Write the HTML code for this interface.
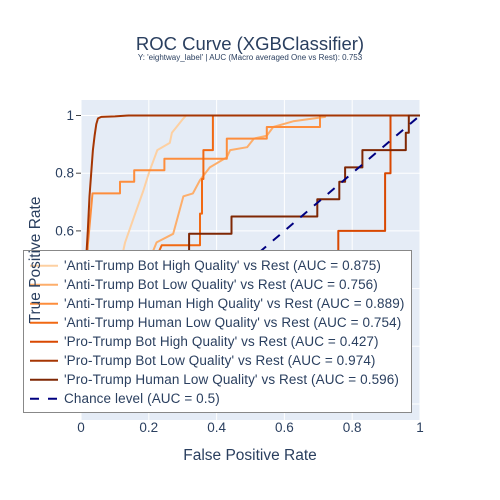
<!DOCTYPE html>
<html><head><meta charset="utf-8"><style>
body{margin:0;background:#fff;}
svg{display:block;font-family:"Liberation Sans",Arial,sans-serif;}
</style></head><body>
<svg id="chart" width="500" height="500" viewBox="0 0 500 500" xmlns="http://www.w3.org/2000/svg">
<rect width="500" height="500" fill="#fff"/>
<text x="250" y="50" text-anchor="middle" font-size="18.5" fill="#2a3f5f">ROC Curve (XGBClassifier)</text>
<text x="250" y="60" text-anchor="middle" font-size="8" fill="#2a3f5f">Y: 'eightway_label' | AUC (Macro averaged One vs Rest): 0.753</text>
<rect x="81" y="100" width="339" height="320" fill="#E5ECF6"/>
<g id="grid"></g>
<g id="ticks"></g>
<defs><clipPath id="clip"><rect x="81" y="100" width="339" height="320"/></clipPath></defs>
<g id="series" clip-path="url(#clip)"></g>
<text x="250" y="460" text-anchor="middle" font-size="15.5" fill="#2a3f5f">False Positive Rate</text>
<g id="legend"></g>
<text x="0" y="0" transform="translate(40,260) rotate(-90)" text-anchor="middle" font-size="15.5" fill="#2a3f5f">True Positive Rate</text>
</svg>
<script>
const xTicks=[0,0.2,0.4,0.6,0.8,1];
const xTickLabels=["0","0.2","0.4","0.6","0.8","1"];
const yTicks=[0,0.2,0.4,0.6,0.8,1];
const yTickLabels=["0","0.2","0.4","0.6","0.8","1"];
const seriesNames=["'Anti-Trump Bot High Quality' vs Rest (AUC = 0.875)","'Anti-Trump Bot Low Quality' vs Rest (AUC = 0.756)","'Anti-Trump Human High Quality' vs Rest (AUC = 0.889)","'Anti-Trump Human Low Quality' vs Rest (AUC = 0.754)","'Pro-Trump Bot High Quality' vs Rest (AUC = 0.427)","'Pro-Trump Bot Low Quality' vs Rest (AUC = 0.974)","'Pro-Trump Human Low Quality' vs Rest (AUC = 0.596)"];
const colors=["rgb(253,208,162)","rgb(253,174,107)","rgb(253,141,60)","rgb(241,105,19)","rgb(217,72,1)","rgb(166,54,3)","rgb(127,39,4)"];
const fpr0=[0,0.03,0.07,0.1,0.13,0.16,0.184,0.2,0.218,0.225,0.262,0.268,0.302,0.31,1];
const tpr0=[0,0.1,0.25,0.4,0.56,0.66,0.74,0.8,0.857,0.88,0.905,0.94,0.99,1,1];
const fpr1=[0,0.08,0.15,0.223,0.272,0.302,0.33,0.351,0.38,0.43,0.44,0.49,0.51,0.548,0.567,0.626,0.72,0.72,1];
const tpr1=[0,0.15,0.35,0.56,0.59,0.72,0.73,0.776,0.82,0.855,0.88,0.89,0.92,0.93,0.96,0.98,0.995,1,1];
const fpr2=[0,0.01,0.02,0.034,0.115,0.115,0.157,0.157,0.246,0.246,0.43,0.43,0.548,0.548,0.705,0.705,1];
const tpr2=[0,0.3,0.55,0.73,0.73,0.77,0.77,0.81,0.81,0.85,0.85,0.92,0.92,0.96,0.96,1,1];
const fpr3=[0,0.1,0.2,0.238,0.351,0.351,0.357,0.357,0.361,0.361,0.389,0.389,1];
const tpr3=[0,0.2,0.45,0.55,0.55,0.66,0.66,0.78,0.78,0.88,0.88,1,1];
const fpr4=[0,0.3,0.6,0.759,0.759,0.897,0.897,0.913,0.913,1];
const tpr4=[0,0.05,0.12,0.2,0.6,0.6,0.8,0.8,1,1];
const fpr5=[0,0.005,0.015,0.02,0.025,0.03,0.035,0.04,0.045,0.05,0.06,0.1,0.14,1];
const tpr5=[0,0.3,0.5,0.6,0.72,0.8,0.88,0.93,0.97,0.99,0.995,0.997,1,1];
const fpr6=[0,0.15,0.319,0.319,0.444,0.444,0.697,0.697,0.762,0.762,0.779,0.779,0.83,0.83,0.958,0.958,0.967,0.967,1];
const tpr6=[0,0.3,0.45,0.59,0.59,0.65,0.65,0.71,0.71,0.77,0.77,0.82,0.82,0.88,0.88,0.94,0.94,1,1];
const chanceX=[0,1];
const chanceY=[0,1];
const NS="http://www.w3.org/2000/svg";
const X0=81,X1=420,xMin=0,xMax=1;
const yMin=-0.0555,yMax=1.0537,Y0=420,Y1=100;
function xs(v){return X0+(v-xMin)/(xMax-xMin)*(X1-X0);}
function ys(v){return Y0-(v-yMin)/(yMax-yMin)*(Y0-Y1);}
function mk(tag,attrs,parent){const e=document.createElementNS(NS,tag);for(const k in attrs)e.setAttribute(k,attrs[k]);parent.appendChild(e);return e;}
const grid=document.getElementById('grid'),ticks=document.getElementById('ticks');
xTicks.forEach((t,i)=>{
 const l=mk('line',{x1:xs(t),x2:xs(t),y1:Y1,y2:Y0,stroke:'#fff','stroke-width':1},grid);
 
 
 const tx=mk('text',{x:xs(t),y:432,'text-anchor':'middle','font-size':13.5,fill:'#2a3f5f'},ticks);
 tx.textContent=xTickLabels[i];
 
 
});
yTicks.forEach((t,i)=>{
 const l=mk('line',{x1:X0,x2:X1,y1:ys(t),y2:ys(t),stroke:'#fff','stroke-width':1},grid);
 
 
 const tk=mk('line',{x1:X0-5,x2:X0,y1:ys(t),y2:ys(t),stroke:'#444','stroke-width':1},grid);
 
 
 const tx=mk('text',{x:X0-7,y:ys(t)+4.5,'text-anchor':'end','font-size':13.5,fill:'#2a3f5f'},ticks);
 tx.textContent=yTickLabels[i];
 
 
});
const series=document.getElementById('series');
const allF=[fpr0,fpr1,fpr2,fpr3,fpr4,fpr5,fpr6],allT=[tpr0,tpr1,tpr2,tpr3,tpr4,tpr5,tpr6];
allF.forEach((f,i)=>{
 const pts=f.map((v,j)=>xs(v).toFixed(1)+','+ys(allT[i][j]).toFixed(1)).join(' ');
 const p=mk('polyline',{points:pts,fill:'none',stroke:colors[i],'stroke-width':2,'stroke-linejoin':'round'},series);
 
 
});
const ch=mk('polyline',{points:chanceX.map((v,j)=>xs(v)+','+ys(chanceY[j])).join(' '),fill:'none',stroke:'navy','stroke-width':2,'stroke-dasharray':'9,9'},series);


const lg=document.getElementById('legend');
const box=mk('rect',{x:23.5,y:250.5,width:388,height:162,fill:'#fff',stroke:'#888','stroke-width':1},lg);


const names=seriesNames.concat(["Chance level (AUC = 0.5)"]);
const cols=colors.concat(["navy"]);
names.forEach((n,i)=>{
 const y=265.7+i*19;
 const l=mk('line',{x1:30,x2:58,y1:y,y2:y,stroke:cols[i],'stroke-width':2},lg);
 if(i===names.length-1)l.setAttribute('stroke-dasharray','9,9');
 
 
 const t=mk('text',{x:64,y:y+4.5,'font-size':13.5,'letter-spacing':0.1,fill:'#2a3f5f'},lg);
 t.textContent=n;
 
 
});
</script>
</body></html>
